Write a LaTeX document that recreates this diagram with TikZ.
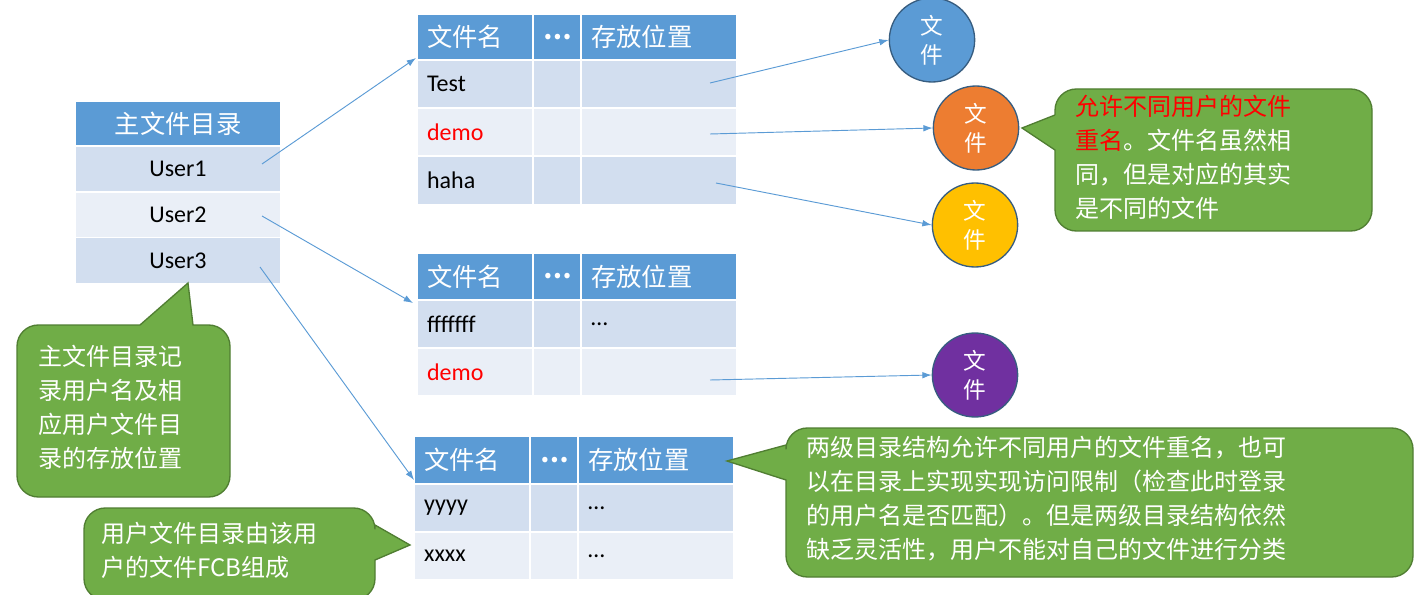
\documentclass[tikz,border=0pt]{standalone}
\usepackage{fontspec}
\setmainfont{Carlito}
\newfontfamily\cjk{Noto Sans CJK SC}
\usetikzlibrary{arrows.meta,shapes.geometric}
\definecolor{hd}{HTML}{5B9BD5}
\definecolor{ra}{HTML}{D2DEEF}
\definecolor{rb}{HTML}{EAEFF7}
\definecolor{gr}{HTML}{70AD47}
\definecolor{grd}{HTML}{507E32}
\definecolor{cor}{HTML}{ED7D31}
\definecolor{cye}{HTML}{FFC000}
\definecolor{cpu}{HTML}{7030A0}
\definecolor{ln}{HTML}{5B9BD5}
\tikzset{
 cellbase/.style={inner sep=0pt,draw=white,line width=1.2pt},
 ltxt/.style={anchor=west,inner sep=0pt,font=\fontsize{18}{20}\selectfont},
 htxt/.style={anchor=west,inner sep=0pt,text=white,font=\cjk\fontsize{19}{22}\selectfont},
 conn/.style={draw=ln,line width=0.7pt,-{Latex[length=7pt,width=5pt]}},
 fil/.style={ellipse,draw=hd!60!black,line width=1pt,minimum width=64pt,minimum height=63pt,inner sep=0pt,text=white,align=center,font=\cjk\fontsize{17}{22}\selectfont},
 call/.style={fill=gr,draw=grd,line width=1pt},
 ctext/.style={text=white,align=left,anchor=north west,inner sep=0pt,font=\cjk\fontsize{18}{25.5}\selectfont},
}
% name, x1, y1, x2, y2, fill, text, text style
\newcommand{\mycell}[8]{%
 \node[cellbase,fill=#6,minimum width=(#4-#2)*0.75pt,minimum height=(#5-#3)*0.75pt] (#1) at ({(#2+#4)/2},{(#3+#5)/2}) {};
 \node[#8] at ([xshift=8pt]#1.west) {#7};}
\newcommand{\mytable}[8]{% prefix, y0, x0, xa, xb, x1, header h, row h ; rows given after
}
\begin{document}
\begin{tikzpicture}[x=0.75pt,y=-0.75pt]
\useasboundingbox (0,0) rectangle (1417,595);
% master table
\node[cellbase,fill=hd,minimum width=206*0.75pt,minimum height=45*0.75pt,text=white,font=\cjk\fontsize{19}{22}\selectfont] (mh) at (178,123.5) {主文件目录};
\node[cellbase,fill=ra,minimum width=206*0.75pt,minimum height=46*0.75pt,font=\fontsize{18}{20}\selectfont] (m1) at (178,169) {User1};
\node[cellbase,fill=rb,minimum width=206*0.75pt,minimum height=46*0.75pt,font=\fontsize{18}{20}\selectfont] (m2) at (178,215) {User2};
\node[cellbase,fill=ra,minimum width=206*0.75pt,minimum height=46*0.75pt,font=\fontsize{18}{20}\selectfont] (m3) at (178,260.5) {User3};
% table 1
\mycell{ah1}{417}{14}{533}{60}{hd}{文件名}{htxt}
\mycell{ah2}{533}{14}{581}{60}{hd}{\textbf{…}}{htxt}
\mycell{ah3}{581}{14}{737}{60}{hd}{存放位置}{htxt}
\mycell{a11}{417}{60}{533}{108}{ra}{Test}{ltxt}
\mycell{a12}{533}{60}{581}{108}{ra}{}{ltxt}
\mycell{a13}{581}{60}{737}{108}{ra}{}{ltxt}
\mycell{a21}{417}{108}{533}{156}{rb}{\textcolor{red}{demo}}{ltxt}
\mycell{a22}{533}{108}{581}{156}{rb}{}{ltxt}
\mycell{a23}{581}{108}{737}{156}{rb}{}{ltxt}
\mycell{a31}{417}{156}{533}{205}{ra}{haha}{ltxt}
\mycell{a32}{533}{156}{581}{205}{ra}{}{ltxt}
\mycell{a33}{581}{156}{737}{205}{ra}{}{ltxt}
% table 2
\mycell{bh1}{417}{253}{533}{300}{hd}{文件名}{htxt}
\mycell{bh2}{533}{253}{581}{300}{hd}{\textbf{…}}{htxt}
\mycell{bh3}{581}{253}{737}{300}{hd}{存放位置}{htxt}
\mycell{b11}{417}{300}{533}{348}{ra}{fffffff}{ltxt}
\mycell{b12}{533}{300}{581}{348}{ra}{}{ltxt}
\mycell{b13}{581}{300}{737}{348}{ra}{…}{ltxt}
\mycell{b21}{417}{348}{533}{396}{rb}{\textcolor{red}{demo}}{ltxt}
\mycell{b22}{533}{348}{581}{396}{rb}{}{ltxt}
\mycell{b23}{581}{348}{737}{396}{rb}{}{ltxt}
% table 3
\mycell{ch1}{414}{436}{530}{484}{hd}{文件名}{htxt}
\mycell{ch2}{530}{436}{578}{484}{hd}{\textbf{…}}{htxt}
\mycell{ch3}{578}{436}{734}{484}{hd}{存放位置}{htxt}
\mycell{c11}{414}{484}{530}{532}{ra}{yyyy}{ltxt}
\mycell{c12}{530}{484}{578}{532}{ra}{}{ltxt}
\mycell{c13}{578}{484}{734}{532}{ra}{…}{ltxt}
\mycell{c21}{414}{532}{530}{580}{rb}{xxxx}{ltxt}
\mycell{c22}{530}{532}{578}{580}{rb}{}{ltxt}
\mycell{c23}{578}{532}{734}{580}{rb}{…}{ltxt}
% files
\node[fil,fill=hd] (f1) at (932,40) {文\\件};
\node[fil,fill=cor] (f2) at (976,128) {文\\件};
\node[fil,fill=cye] (f3) at (975,225) {文\\件};
\node[fil,fill=cpu] (f4) at (975,375) {文\\件};
% connector anchors
\coordinate (u1) at (262,164); \coordinate (u2) at (262,216); \coordinate (u3) at (260,267);
\coordinate (p1) at (710,83); \coordinate (p2) at (710,134); \coordinate (p3) at (716,183); \coordinate (p4) at (710,380);
\coordinate (t1) at (416,58); \coordinate (t2) at (413,303); \coordinate (t3) at (414,480);
\draw[conn] (u1) -- (t1);
\draw[conn] (u2) -- (t2);
\draw[conn] (u3) -- (t3);
\draw[conn] (p1) -- (f1.west);
\draw[conn] (p2) -- (f2.west);
\draw[conn] (p3) -- (f3.west);
\draw[conn] (p4) -- (f4.west);
% callouts
\draw[call] (140,325) [sharp corners]-- (188,283) -- (193,325) [rounded corners=16pt]-- (230,325) -- (230,497) -- (17,497) -- (17,325) -- (140,325);
\node[ctext] (k1) at (38,345) {主文件目录记\\录用户名及相\\应用户文件目\\录的存放位置};
\draw[call] (375,525) [sharp corners]-- (410,545) -- (375,560) [rounded corners=16pt]-- (375,600) -- (84,600) -- (84,508) -- (375,508) -- (375,525);
\node[ctext] (k2) at (101,522) {用户文件目录由该用\\户的文件FCB组成};
\draw[call] (1055,115) [sharp corners]-- (1022,128) -- (1055,150) [rounded corners=16pt]-- (1055,231) -- (1372,231) -- (1372,89) -- (1055,89) -- (1055,115);
\node[ctext] (k3) at (1075,95) {\textcolor{red}{允许不同用户的文件}\\\textcolor{red}{重名}。文件名虽然相\\同，但是对应的其实\\是不同的文件};
\draw[call] (786,445) [sharp corners]-- (727,461) -- (786,480) [rounded corners=16pt]-- (786,577) -- (1413,577) -- (1413,428) -- (786,428) -- (786,445);
\node[ctext] (k4) at (806,436) {两级目录结构允许不同用户的文件重名，也可\\以在目录上实现实现访问限制（检查此时登录\\的用户名是否匹配）。但是两级目录结构依然\\缺乏灵活性，用户不能对自己的文件进行分类};
\end{tikzpicture}
\end{document}
